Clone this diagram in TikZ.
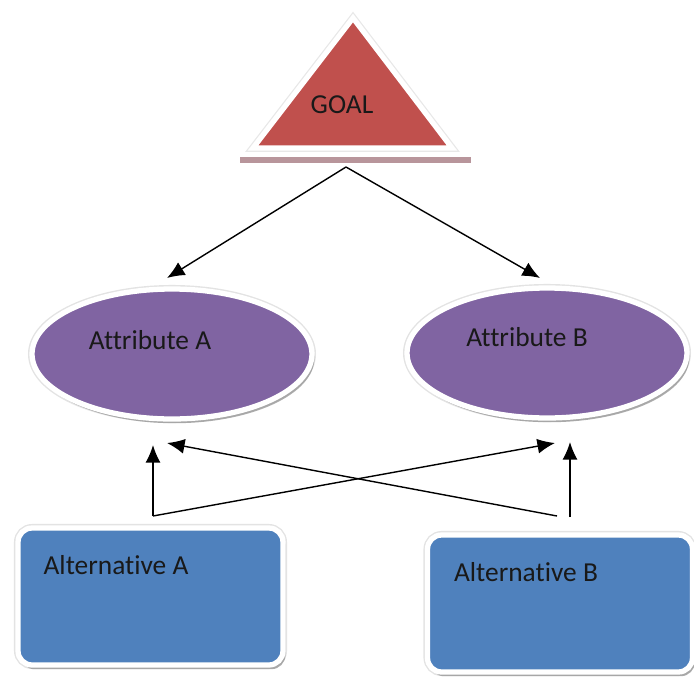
\documentclass[tikz,border=0pt]{standalone}
\usepackage{fontspec}
\setmainfont[Ligatures=NoCommon]{Carlito}
\usetikzlibrary{shapes}
\usetikzlibrary{arrows.meta}
\usetikzlibrary{shadows}

\definecolor{goalred}{HTML}{C0504D}
\definecolor{attrpurple}{HTML}{8064A2}
\definecolor{altblue}{HTML}{4F81BD}
\definecolor{barshade}{HTML}{B8959B}

\begin{document}
\begin{tikzpicture}[x=0.02cm, y=-0.02cm, font=\fontsize{15.6}{18}\selectfont]

\tikzstyle{rim}=[draw=white, line width=3pt, preaction={draw=gray!22, line width=4.6pt}, drop shadow={shadow xshift=1.4pt, shadow yshift=-2.4pt, fill=gray!85, opacity=0.75}]
\tikzstyle{attribute}=[ellipse, minimum width=5.6cm, minimum height=2.6cm, fill=attrpurple, rim]
\tikzstyle{alternative}=[rectangle, rounded corners=8pt, minimum width=5.3cm, minimum height=2.74cm, fill=altblue, rim]
\tikzstyle{label}=[text=black!90, inner sep=0pt]

\tikzstyle{connect}=[-{Latex[length=10pt, width=8.5pt]}, line width=0.8pt]

\useasboundingbox (0,0) rectangle (694,677);

% goal triangle
\fill[barshade] (240,157) rectangle (471,163);
\draw[fill=goalred, draw=white, line width=3pt, line join=miter, preaction={draw=gray!18, line width=4.4pt}] (253,148) -- (353,18) -- (452,148) -- cycle;
\node[label] (goal) at (342,105) {GOAL};

\node[attribute] (attrA) at (172,354) {};
\node[attribute] (attrB) at (547,353) {};
\node[label] (attrAtext) at (150,340) {Attribute A};
\node[label] (attrBtext) at (527,337) {Attribute B};

\node[alternative] (altA) at (150.5,596.5) {};
\node[alternative] (altB) at (560,603.5) {};
\node[label] (altAtext) at (116,565) {Alternative A};
\node[label] (altBtext) at (526,572) {Alternative B};

\coordinate (goalfoot) at (346,167);
\coordinate (attrAin) at (167,278);
\coordinate (attrBin) at (540,278);

\coordinate (altAout) at (153,516);
\coordinate (altBout) at (570,517);
\coordinate (altBcross) at (557,516);
\coordinate (attrAup) at (153,445);
\coordinate (attrAcross) at (167,443);
\coordinate (attrBcross) at (555,443);
\coordinate (attrBup) at (570,442);

\path (goalfoot) [connect] edge (attrAin);
\path (goalfoot) [connect] edge (attrBin);

\path (altAout) [connect] edge (attrAup);
\path (altAout) [connect] edge (attrBcross);
\path (altBcross) [connect] edge (attrAcross);
\path (altBout) [connect] edge (attrBup);

\end{tikzpicture}
\end{document}
